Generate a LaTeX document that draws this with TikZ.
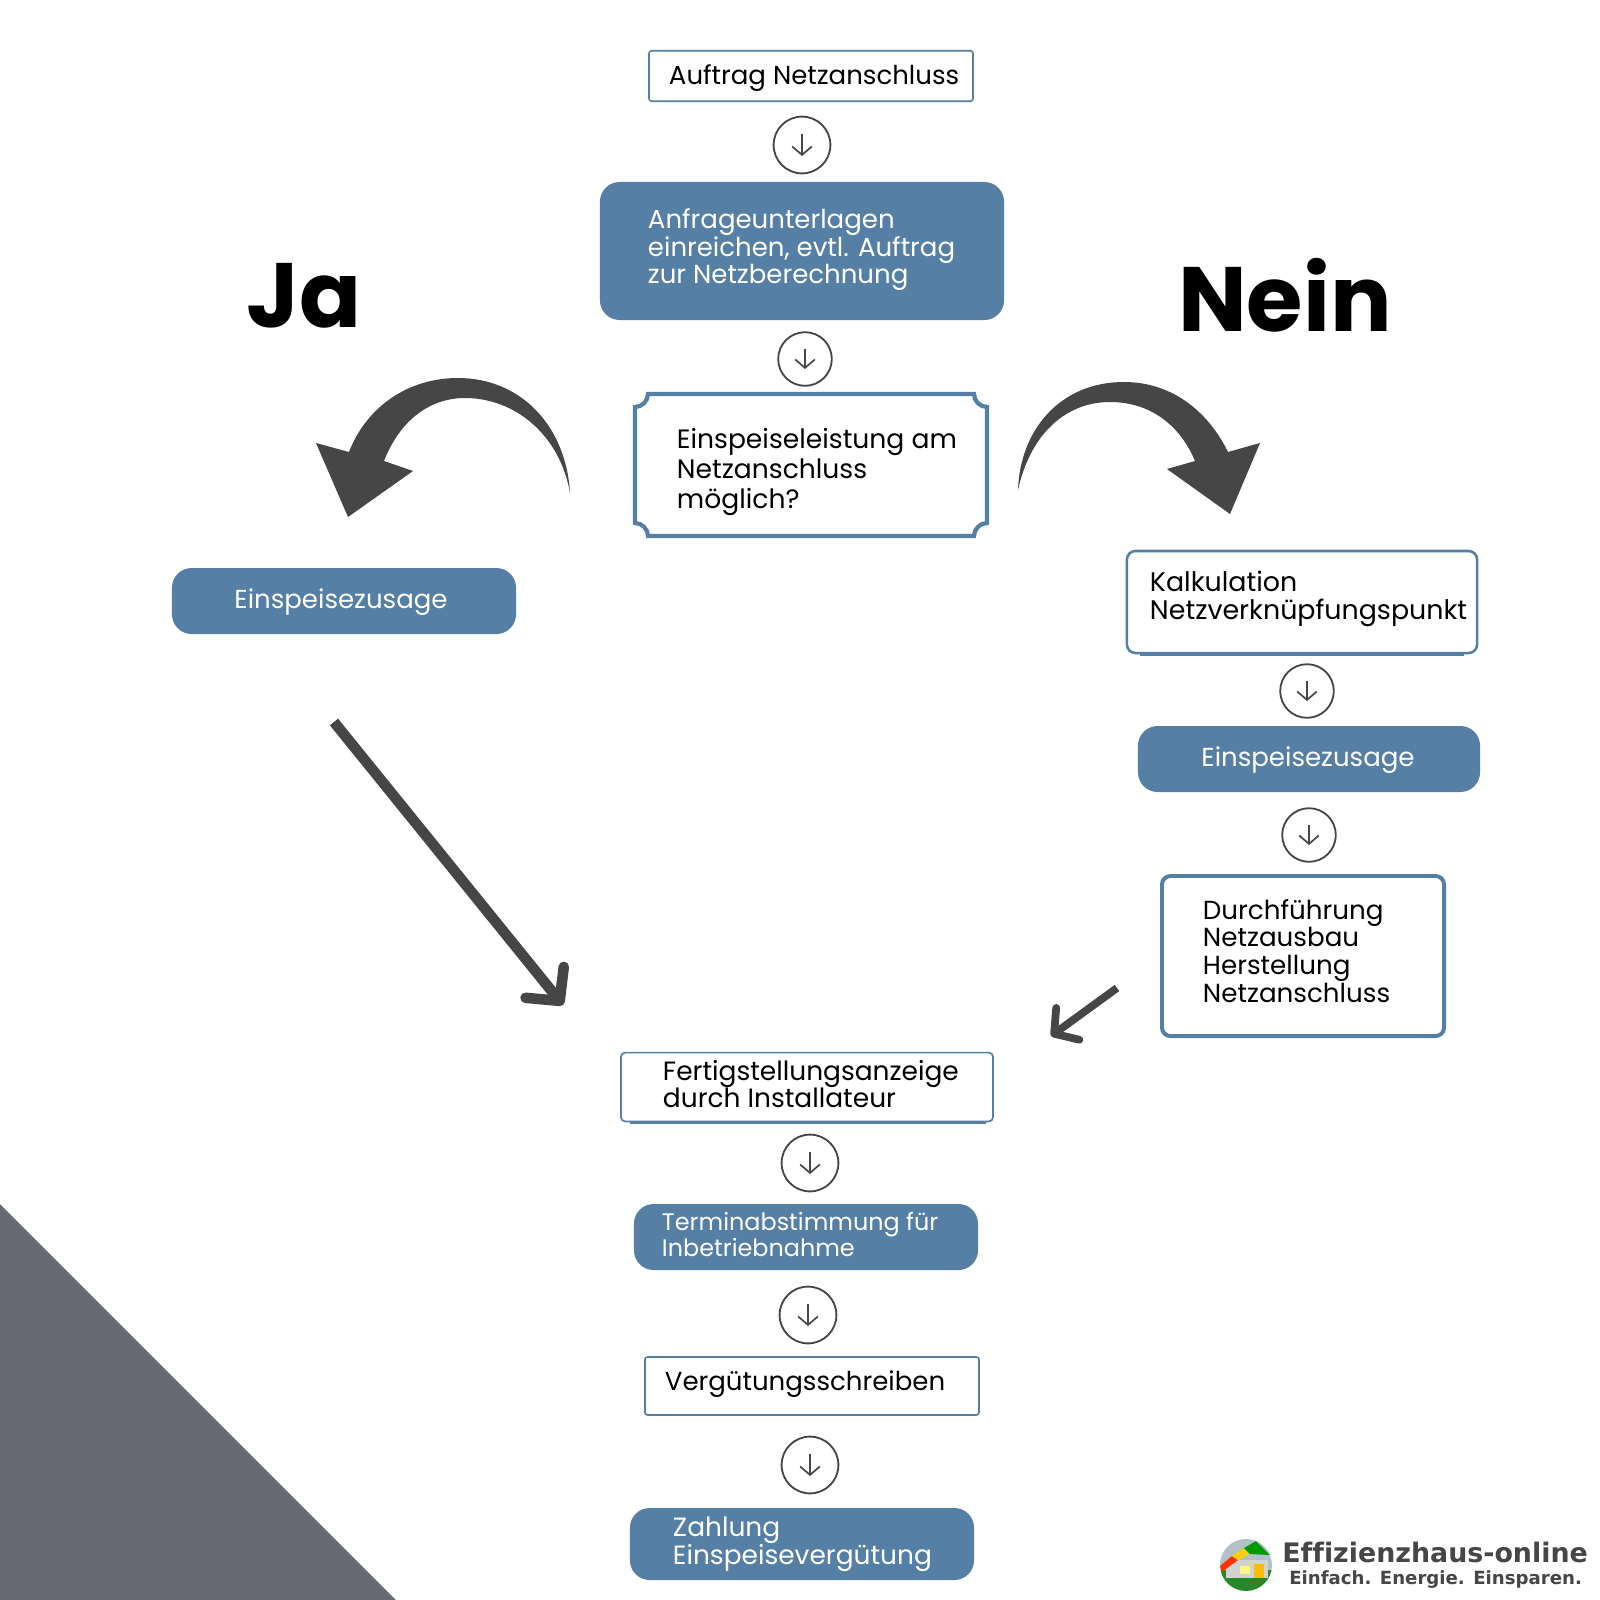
\documentclass[tikz,border=0pt]{standalone}
\usepackage{fontspec}
\setmainfont{Poppins}
\newfontfamily\logofont[Ligatures=NoCommon]{DejaVu Sans}
\usepackage{xcolor}
\definecolor{ehblue}{RGB}{85,127,165}
\definecolor{ehdark}{RGB}{70,70,70}
\definecolor{ehslate}{RGB}{104,106,115}
\usetikzlibrary{arrows.meta, positioning, calc, shapes.misc}
\tikzset{
  outbox/.style={draw=ehblue, fill=white, line width=1.2pt, rounded corners=2pt, minimum height=1.3cm, align=left, text=black, inner sep=0pt},
  fillbox/.style={fill=ehblue, rounded corners=14pt, align=left, text=white, inner sep=0pt},
  stepcirc/.style={circle, draw=ehdark, line width=1.3pt, minimum size=1.42cm, inner sep=0pt, fill=white},
  steparrow/.style={ehdark, line width=1.2pt, -{Straight Barb[length=6pt,width=14pt]}},
  boldtxt/.style={font=\fontsize{65}{65}\selectfont\bfseries, text=black, inner sep=0pt},
  bigarrow/.style={ehdark, line join=round, line width=7.5pt, -{Straight Barb[length=17pt,width=35pt,round]}},
}
\begin{document}
\begin{tikzpicture}[x=0.025cm, y=-0.025cm]
  \useasboundingbox (0,0) rectangle (1600,1600);
  \fill[white] (0,0) rectangle (1600,1600);
  % Corner triangle
  \fill[ehslate] (0,1204) -- (396,1600) -- (0,1600) -- cycle;

  % --- Centre column, top ---
  \node[outbox, minimum width=8.1cm, minimum height=1.26cm] (auftrag) at (811,76) {};
  \node[anchor=west, font=\fontsize{18.5}{20}\selectfont] (auftragtxt) at (664,78) {Auftrag Netzanschluss};
  \node[stepcirc] (c1) at (802,145) {};
  \node[fillbox, minimum width=10.1cm, minimum height=3.45cm] (anfrage) at (802,251) {};
  \node[anchor=west, align=left, text=white, font=\fontsize{18.5}{19.6}\selectfont] (anfragetxt) at (643,250) {Anfrageunterlagen\\einreichen, evtl. Auftrag\\zur Netzberechnung};
  \node[stepcirc, minimum size=1.34cm] (c2) at (805,359) {};
  % Plaque box
  \draw[ehblue, fill=white, line width=3pt] (648,394) -- (974,394) .. controls (974,401) and (980,407) .. (987,407) -- (987,523) .. controls (980,523) and (974,529) .. (974,536) -- (648,536) .. controls (648,529) and (642,523) .. (635,523) -- (635,407) .. controls (642,407) and (648,401) .. (648,394) -- cycle;
  \node[anchor=west, align=left, font=\fontsize{18.9}{21.4}\selectfont] (frage) at (672,472) {Einspeiseleistung am\\Netzanschluss\\möglich?};

  % --- Ja / Nein ---
  \node[boldtxt] (ja) at (304,296) {Ja};
  \node[boldtxt] (nein) at (1285,295) {Nein};
  % Curved arrows
  \fill[ehdark] (570,493) .. controls (566,425) and (520,378) .. (458,378) .. controls (405,378) and (365,410) .. (349,452) -- (316,443) -- (348,517) -- (413,471) -- (384,461) .. controls (400,420) and (430,398) .. (465,398) .. controls (515,398) and (560,435) .. (570,493) -- cycle;
  \fill[ehdark] (1018,490) .. controls (1020,430) and (1060,382) .. (1124,382) .. controls (1175,382) and (1210,415) .. (1228,452) -- (1260,443) -- (1230,514) -- (1167,469) -- (1195,461) .. controls (1180,425) and (1150,402) .. (1110,402) .. controls (1065,402) and (1030,435) .. (1018,490) -- cycle;

  % --- Left branch ---
  \node[fillbox, minimum width=8.6cm, minimum height=1.65cm] (zusageL) at (344,601) {};
  \node[text=white, font=\fontsize{18.5}{20}\selectfont] (zusageLtxt) at (341,602) {Einspeisezusage};
  \coordinate (ls) at (334,722);
  \coordinate (le) at (563,1005);
  \draw[bigarrow] (ls) -- (le);

  % --- Right branch ---
  \node[outbox, line width=1.8pt, rounded corners=6pt, minimum width=8.75cm, minimum height=2.55cm] (kalk) at (1302,602) {};
  \draw[ehblue, line width=1.8pt] (1140,654.5) -- (1464,654.5);
  \node[anchor=west, align=left, font=\fontsize{19.1}{19.7}\selectfont] (kalktxt) at (1145,599) {Kalkulation\\Netzverknüpfungspunkt};
  \node[stepcirc, minimum size=1.34cm] (c3) at (1307,691) {};
  \node[fillbox, minimum width=8.55cm, minimum height=1.65cm] (zusageR) at (1309,759) {};
  \node[text=white, font=\fontsize{18.5}{20}\selectfont] (zusageRtxt) at (1308,760) {Einspeisezusage};
  \node[stepcirc, minimum size=1.34cm] (c4) at (1309,835) {};
  \node[draw=ehblue, fill=white, line width=2.8pt, rounded corners=6pt, minimum width=7.05cm, minimum height=4cm] (bau) at (1303,956) {};
  \node[anchor=west, align=left, font=\fontsize{18.6}{19.8}\selectfont] (bautxt) at (1198,951) {Durchführung\\Netzausbau\\Herstellung\\Netzanschluss};
  \coordinate (rs) at (1117,988);
  \coordinate (re) at (1051,1036);
  \draw[bigarrow, line width=5.5pt, -{Straight Barb[length=12pt,width=28pt,round]}] (rs) -- (re);

  % --- Centre column, bottom ---
  \node[outbox, rounded corners=3pt, minimum width=9.3cm, minimum height=1.72cm] (fertig) at (807,1087) {};
  \draw[ehblue, line width=1.2pt] (630,1122.8) -- (986,1122.8);
  \node[anchor=west, align=left, font=\fontsize{18.8}{19.7}\selectfont] (fertigtxt) at (658,1084) {Fertigstellungsanzeige\\durch Installateur};
  \node[stepcirc] (c5) at (810,1163) {};
  \node[fillbox, minimum width=8.6cm, minimum height=1.65cm] (termin) at (806,1237) {};
  \node[anchor=west, align=left, text=white, font=\fontsize{17}{18.5}\selectfont] (termintxt) at (657,1234) {Terminabstimmung für\\Inbetriebnahme};
  \node[stepcirc] (c6) at (808,1315) {};
  \node[outbox, minimum width=8.35cm, minimum height=1.45cm] (verg) at (812,1386) {};
  \node[anchor=west, font=\fontsize{18.5}{20}\selectfont] (vergtxt) at (660,1384) {Vergütungsschreiben};
  \node[stepcirc] (c7) at (810,1465) {};
  \node[fillbox, minimum width=8.6cm, minimum height=1.8cm] (zahl) at (802,1544) {};
  \node[anchor=west, align=left, text=white, font=\fontsize{18.8}{19.7}\selectfont] (zahltxt) at (668,1544) {Zahlung\\Einspeisevergütung};

  % Small arrows in circles
  \foreach \cname/\cr in {c1/11,c2/10,c3/10,c4/10,c5/11,c6/11,c7/11}{
    \draw[steparrow] ($(\cname)+(0,-\cr)$) -- ($(\cname)+(0,\cr)$);
  }

  % Logo
  \begin{scope}
    \clip (1246,1565) circle (26);
    \fill[cyan!20!gray!60] (1220,1539) rectangle (1272,1570);
    \fill[green!45!black!85!white] (1220,1570) rectangle (1272,1591);
    \fill[gray!35] (1226,1560) rectangle (1268,1578);
    \fill[red!60!orange] (1220,1566) -- (1232,1556) -- (1238,1560) -- (1222,1572) -- cycle;
    \fill[yellow!70!orange] (1232,1556) -- (1244,1548) -- (1250,1554) -- (1238,1560) -- cycle;
    \fill[green!60!black] (1244,1548) -- (1256,1541) -- (1270,1555) -- (1250,1554) -- cycle;
    \fill[yellow!50] (1240,1566) rectangle (1250,1574);
    \fill[yellow!50!orange] (1254,1564) rectangle (1264,1578);
  \end{scope}
  \node[anchor=west, font=\logofont\bfseries\fontsize{19.1}{22}\selectfont, text=ehdark, inner sep=0pt] (logoA) at (1282,1552) {Effizienzhaus-online};
  \node[anchor=west, font=\logofont\bfseries\fontsize{12.9}{15}\selectfont, text=ehdark, inner sep=0pt] (logoB) at (1289,1580) {Einfach. Energie. Einsparen.};
\end{tikzpicture}
\end{document}
